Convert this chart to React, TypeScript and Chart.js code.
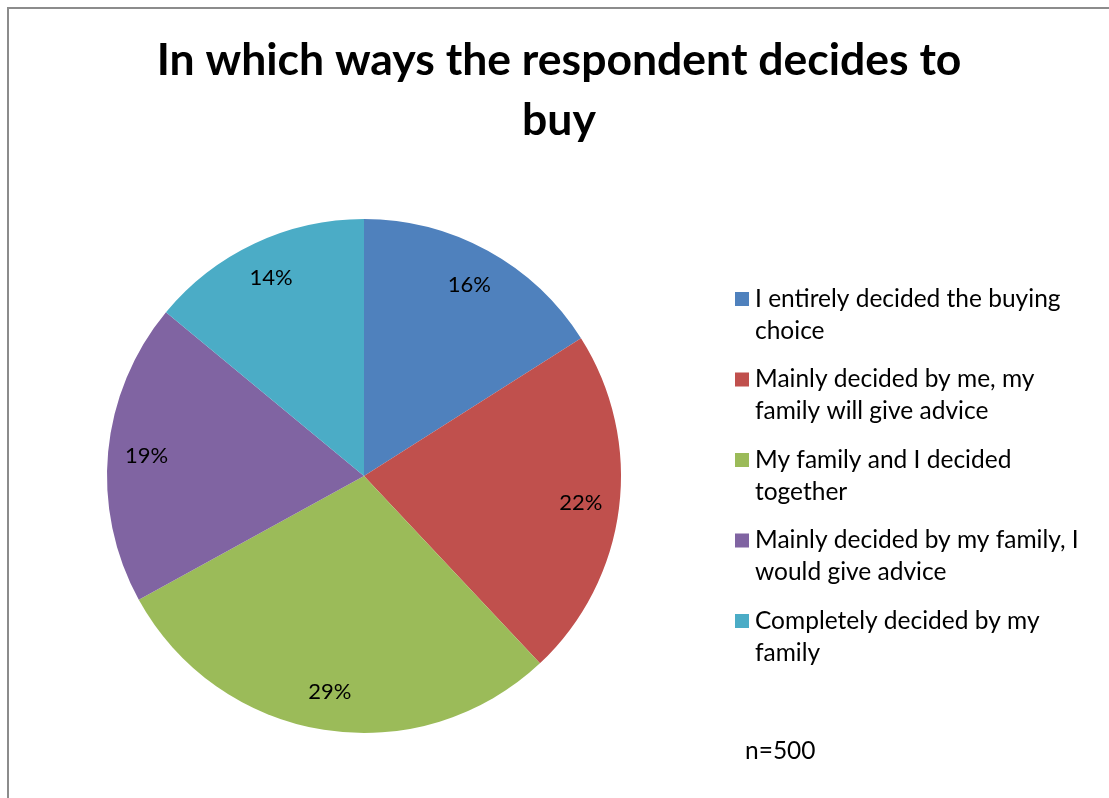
import React, { useEffect, useRef } from "react";
import { Chart, registerables } from "chart.js";

Chart.register(...registerables);

const titleLines = ["In which ways the respondent decides to", "buy"];
const categories: string[][] = [
  ["I entirely decided the buying", "choice"],
  ["Mainly decided by me, my", "family will give advice"],
  ["My family and I decided", "together"],
  ["Mainly decided by my family, I", "would give advice"],
  ["Completely decided by my", "family"],
];
const values = [16, 22, 29, 19, 14];
const colors = ["#4F81BD", "#C0504D", "#9BBB59", "#8064A2", "#4BACC6"];
const noteText = "n=500";

const FONT = "Lato, 'Open Sans', 'DejaVu Sans', sans-serif";

const textPlugin = {
  id: "textPlugin",
  afterDraw(chart: any) {
    const ctx = chart.ctx as CanvasRenderingContext2D;
    ctx.save();
    // title
    ctx.fillStyle = "#000";
    ctx.textAlign = "center";
    ctx.textBaseline = "middle";
    ctx.font = `bold 44.5px ${FONT}`;
    titleLines.forEach((t, i) => ctx.fillText(t, 559, 61 + i * 60));

    // data labels
    const meta = chart.getDatasetMeta(0);
    const total = values.reduce((a, b) => a + b, 0);
    ctx.font = `22px ${FONT}`;
    meta.data.forEach((arc: any, i: number) => {
      const mid = (arc.startAngle + arc.endAngle) / 2;
      const r = arc.outerRadius * 0.85;
      const x = arc.x + Math.cos(mid) * r;
      const y = arc.y + Math.sin(mid) * r;
      ctx.fillStyle = "#000";
      ctx.fillText(`${Math.round((values[i] / total) * 100)}%`, x, y);
    });

    // legend
    ctx.textAlign = "left";
    ctx.font = `24.5px ${FONT}`;
    const startY = 299;
    const itemGap = 80.5;
    const lineH = 32;
    categories.forEach((lines, i) => {
      const y0 = startY + i * itemGap;
      ctx.fillStyle = colors[i];
      ctx.fillRect(735, y0 - 7, 14, 14);
      ctx.fillStyle = "#000";
      lines.forEach((ln, j) => ctx.fillText(ln, 755, y0 + j * lineH));
    });

    // note
    ctx.font = `24.5px ${FONT}`;
    ctx.fillText(noteText, 745, 751);
    ctx.restore();
  },
};

export default function App() {
  const ref = useRef<HTMLCanvasElement>(null);
  useEffect(() => {
    if (!ref.current) return;
    const chart = new Chart(ref.current, {
      type: "pie",
      data: {
        labels: categories.map((c) => c.join(" ")),
        datasets: [
          {
            data: values,
            backgroundColor: colors,
            borderWidth: 0,
          },
        ],
      },
      options: {
        animation: false,
        responsive: false,
        events: [],
        layout: { padding: { left: 107, right: 488, top: 219, bottom: 65 } },
        plugins: {
          legend: { display: false },
          title: { display: false },
          tooltip: { enabled: false },
        },
      },
      plugins: [textPlugin],
    });
    return () => chart.destroy();
  }, []);

  return (
    <div style={{ position: "fixed", left: 0, top: 0, width: 1109, height: 798, background: "#fff", overflow: "hidden" }}>
      <canvas ref={ref} width={1109} height={798} style={{ position: "absolute", left: 0, top: 0 }} />
      <div
        style={{
          position: "absolute",
          left: 7,
          top: 7,
          width: 2000,
          height: 2000,
          borderLeft: "2px solid #8c8c8c",
          borderTop: "2px solid #8c8c8c",
          pointerEvents: "none",
        }}
      />
    </div>
  );
}
